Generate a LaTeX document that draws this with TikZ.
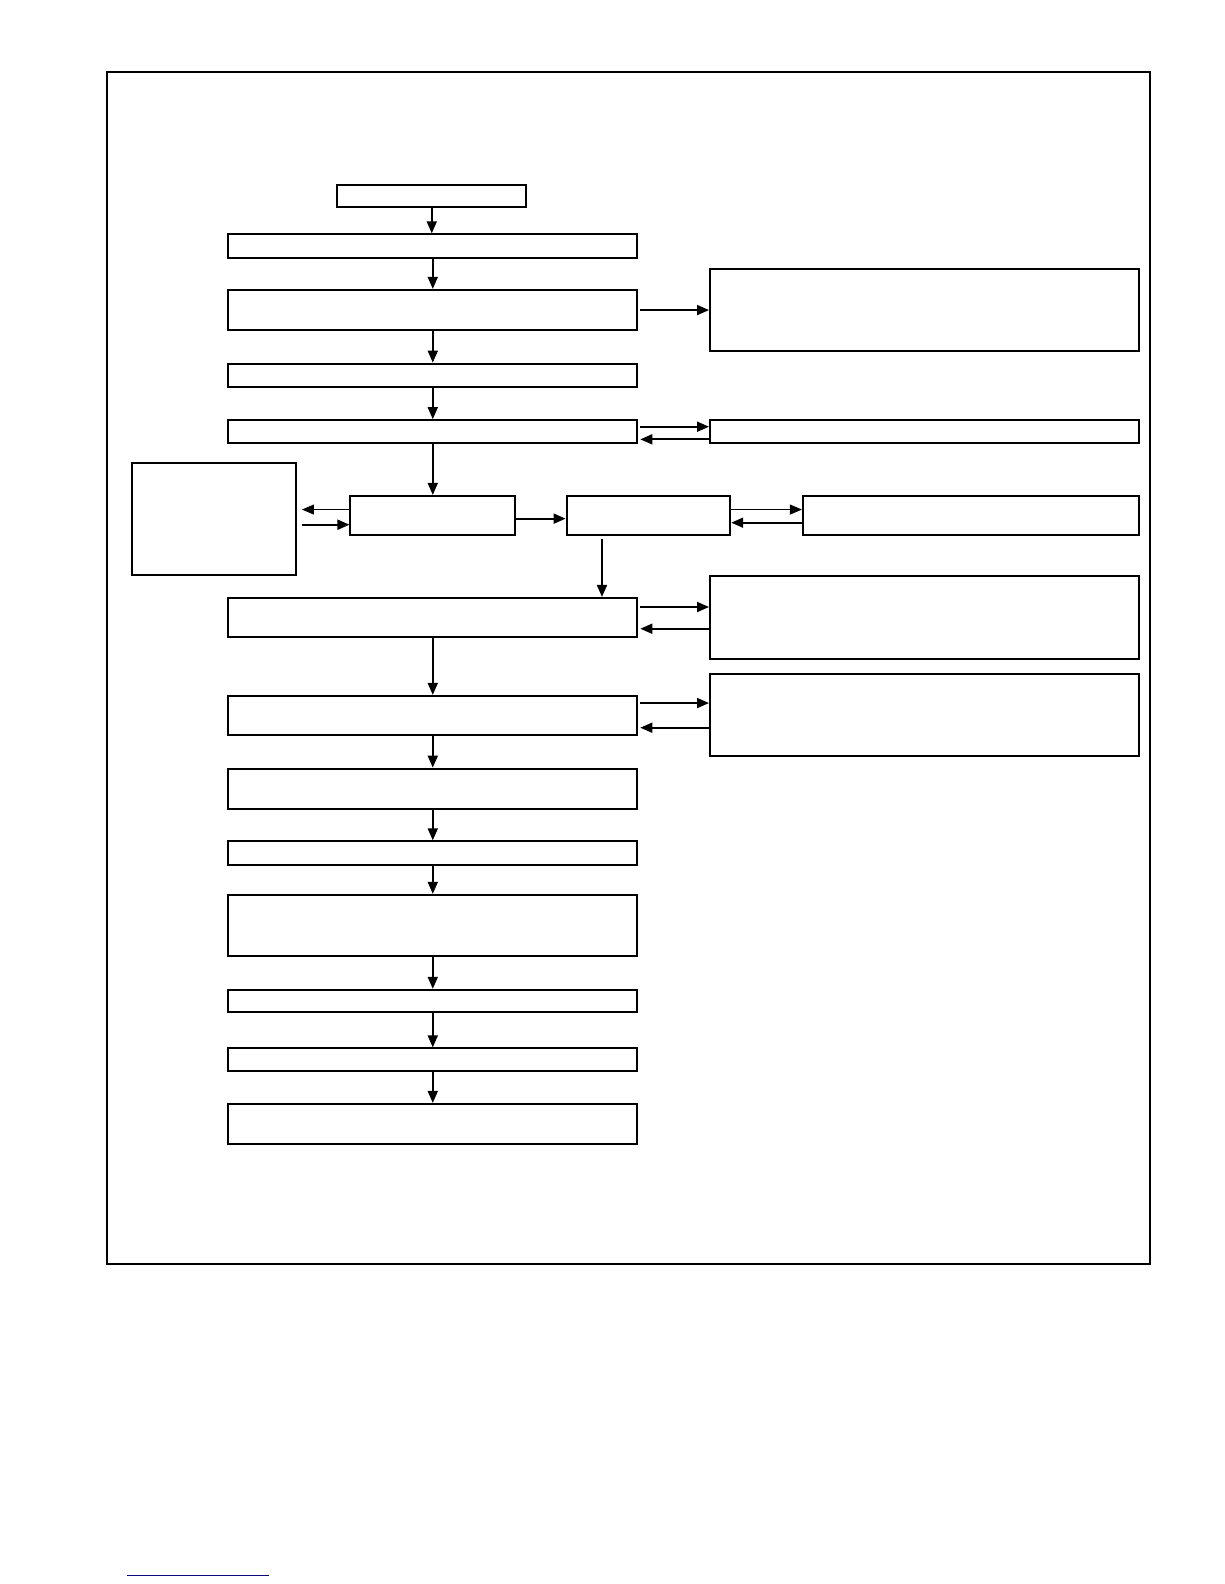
\documentclass[tikz,border=0pt]{standalone}
\usetikzlibrary{arrows.meta,fit,calc}
\definecolor{linknavy}{RGB}{10,10,120}
\begin{document}
\begin{tikzpicture}[x=1.01pt,y=-1.01pt,
  box/.style={draw,line width=2pt,inner sep=0pt,rectangle},
  frm/.style={draw,line width=2pt,inner sep=0pt,rectangle},
  arr/.style={line width=1.8pt,-{Triangle[length=12pt,width=10pt]}},
  thinarr/.style={line width=1pt,-{Triangle[length=12pt,width=10pt]}}]
\useasboundingbox (0pt,0pt) rectangle (1224pt,-1584pt);
\fill[white] (0pt,0pt) rectangle (1224pt,-1584pt);
% frame
\node[frm,fit={(106,71) (1139,1251)}] (frame) {};
% main column
\node[box,fit={(334,183) (521,205)}] (B0) {};
\node[box,fit={(226,232) (631,255)}] (B1) {};
\node[box,fit={(226,287) (631,327)}] (B2) {};
\node[box,fit={(226,360) (631,383)}] (B3) {};
\node[box,fit={(226,416) (631,439)}] (B4) {};
\node[box,fit={(347,491) (510,530)}] (M1) {};
\node[box,fit={(561,491) (723,530)}] (M2) {};
\node[box,fit={(226,592) (631,631)}] (B5) {};
\node[box,fit={(226,689) (631,728)}] (B6) {};
\node[box,fit={(226,761) (631,801)}] (B7) {};
\node[box,fit={(226,833) (631,856)}] (B8) {};
\node[box,fit={(226,886) (631,947)}] (B9) {};
\node[box,fit={(226,980) (631,1002)}] (B10) {};
\node[box,fit={(226,1038) (631,1060)}] (B11) {};
\node[box,fit={(226,1093) (631,1133)}] (B12) {};
% side boxes
\node[box,fit={(703,266) (1128,348)}] (R1) {};
\node[box,fit={(703,416) (1128,439)}] (R2) {};
\node[box,fit={(795,491) (1128,530)}] (R3) {};
\node[box,fit={(703,570) (1128,652)}] (R4) {};
\node[box,fit={(703,667) (1128,749)}] (R5) {};
\node[box,fit={(131,458) (293,569)}] (L) {};
% vertical arrows
\draw[arr] (B0.south) -- (B0.south |- B1.north);
\draw[arr] (B1.south) -- (B1.south |- B2.north);
\draw[arr] (B2.south) -- (B2.south |- B3.north);
\draw[arr] (B3.south) -- (B3.south |- B4.north);
\draw[arr] (B4.south) -- (B4.south |- M1.north);
\draw[arr] (B5.south) -- (B5.south |- B6.north);
\draw[arr] (B6.south) -- (B6.south |- B7.north);
\draw[arr] (B7.south) -- (B7.south |- B8.north);
\draw[arr] (B8.south) -- (B8.south |- B9.north);
\draw[arr] (B9.south) -- (B9.south |- B10.north);
\draw[arr] (B10.south) -- (B10.south |- B11.north);
\draw[arr] (B11.south) -- (B11.south |- B12.north);
\coordinate (m2d) at ($(M2.south west)+(36,3)$);
\draw[arr] (m2d) -- (m2d |- B5.north);
% horizontal arrows
\coordinate (b2r) at ($(B2.east)+(2,0)$);
\draw[arr] (b2r) -- (b2r -| R1.west);
\coordinate (a1) at ($(B4.east)+(2,-5)$);
\draw[arr] (a1) -- (a1 -| R2.west);
\coordinate (a2) at ($(R2.west)+(0,7.5)$);
\draw[arr] (a2) -- ($(a2 -| B4.east)+(2,0)$);
\coordinate (Lx) at ($(L.east)+(5,0)$);
\coordinate (m1a) at ($(M1.west)+(0,-6)$);
\draw[thinarr] (m1a) -- (m1a -| Lx);
\coordinate (m1b) at ($(M1.west)+(0,9)$);
\draw[arr] (m1b -| Lx) -- (m1b);
\coordinate (m12) at ($(M1.east)+(0,3)$);
\draw[arr] (m12) -- (m12 -| M2.west);
\coordinate (m2a) at ($(M2.east)+(0,-6)$);
\draw[thinarr] (m2a) -- (m2a -| R3.west);
\coordinate (m2b) at ($(R3.west)+(0,7)$);
\draw[arr] (m2b) -- (m2b -| M2.east);
\coordinate (c1) at ($(B5.east)+(2,-10.5)$);
\draw[arr] (c1) -- (c1 -| R4.west);
\coordinate (c2) at ($(B5.east -| R4.west)+(0,11)$);
\draw[arr] (c2) -- ($(c2 -| B5.east)+(2,0)$);
\coordinate (d1) at ($(B6.east)+(2,-12.4)$);
\draw[arr] (d1) -- (d1 -| R5.west);
\coordinate (d2) at ($(B6.east -| R5.west)+(0,12)$);
\draw[arr] (d2) -- ($(d2 -| B6.east)+(2,0)$);
% link underline
\coordinate (u1) at (126,1560);
\coordinate (u2) at (266,1560);
\draw[linknavy,line width=1.5pt] (u1) -- (u2);
\end{tikzpicture}
\end{document}
